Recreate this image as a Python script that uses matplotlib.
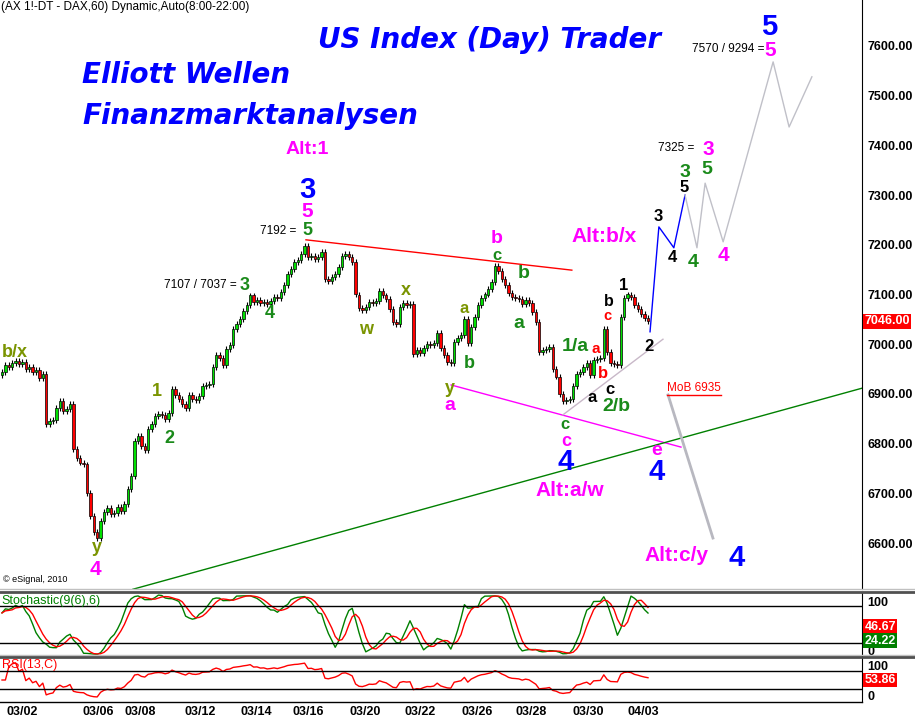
## DAX 60 min chart with Elliott wave count, stochastic and RSI panels

import numpy as np
import pandas as pd
import matplotlib
matplotlib.use('Agg')
import matplotlib.pyplot as plt
from matplotlib.lines import Line2D

plt.rcParams['font.family'] = ['Liberation Sans', 'DejaVu Sans']

## price data (closes, one value per bar)
closes = [
    6945, 6958, 6955, 6962, 6966, 6960, 6965, 6950, 6955, 6945,
    6948, 6932, 6940, 6840, 6845, 6848, 6872, 6885, 6866, 6870,
    6880, 6790, 6772, 6762, 6758, 6700, 6655, 6622, 6610, 6645,
    6662, 6670, 6658, 6660, 6672, 6665, 6678, 6708, 6735, 6805,
    6815, 6795, 6788, 6830, 6840, 6855, 6860, 6858, 6850, 6862,
    6910, 6898, 6890, 6880, 6872, 6898, 6890, 6888, 6895, 6915,
    6918, 6920, 6955, 6978, 6972, 6958, 6990, 6998, 7030, 7040,
    7050, 7066, 7078, 7098, 7085, 7088, 7082, 7085, 7080, 7086,
    7095, 7092, 7105, 7120, 7142, 7152, 7165, 7170, 7182, 7198,
    7175, 7178, 7172, 7176, 7186, 7132, 7128, 7135, 7142, 7155,
    7178, 7182, 7175, 7165, 7100, 7072, 7068, 7075, 7085, 7083,
    7086, 7108, 7098, 7090, 7070, 7045, 7040, 7075, 7082, 7078,
    7080, 6980, 6988, 6982, 6992, 7000, 6998, 7002, 7022, 6992,
    6978, 6965, 6962, 7005, 7012, 7018, 7050, 7002, 7035, 7055,
    7078, 7093, 7100, 7112, 7125, 7158, 7148, 7132, 7120, 7103,
    7095, 7093, 7090, 7080, 7088, 7083, 7065, 7045, 6985, 6988,
    6990, 6994, 6950, 6935, 6900, 6885, 6888, 6890, 6915, 6940,
    6945, 6955, 6962, 6938, 6968, 6970, 6972, 7030, 6985, 6962,
    6960, 6958, 7055, 7092, 7100, 7095, 7078, 7070, 7060, 7052,
    7046,
]
first_open = 6938
wick = 6

date_labels = ['03/02', '03/06', '03/08', '03/12', '03/14', '03/16',
               '03/20', '03/22', '03/26', '03/28', '03/30', '04/03']
date_pos = [5.9, 28.2, 40.6, 58.2, 74.7, 90.0, 106.8, 122.9, 139.7, 155.6, 172.4, 188.5]
price_ticks = [7600, 7500, 7400, 7300, 7200, 7100, 7000, 6900, 6800, 6700, 6600]
last_price = 7046.00
stoch_d_last = 46.67
stoch_k_last = 24.22
rsi_last = 53.86

## projected wave paths and trend lines (bar, price)
proj_blue_x = [190.6, 193.2, 197.6, 200.9]
proj_blue_y = [7025, 7236, 7194, 7300]
proj_grey_x = [200.9, 204.4, 206.8, 212.1, 226.8, 231.5, 238.2]
proj_grey_y = [7300, 7194, 7324, 7206, 7568, 7437, 7538]
mob_x = [195.9, 209.1]
mob_y = [6898, 6610]
red_tl_x, red_tl_y = [89.4, 167.6], [7210, 7149]
mag_tl_x, mag_tl_y = [132.1, 199.7], [6918, 6793]
green_tl_x, green_tl_y = [38.5, 253.2], [6507, 6912]
grey_tl_x, grey_tl_y = [165.0, 194.4], [6858, 7010]

MAG = '#ff00ff'
BLUE = '#0000ff'
GREEN = '#1a8a1a'
OLIVE = '#7a9400'
RED = '#ff0000'
BLACK = '#000000'

## wave labels: bar, price, text, colour, size
labels = [
    (3.8, 6984, 'b/x', OLIVE, 13), (27.9, 6590, 'y', OLIVE, 13), (27.6, 6546, '4', MAG, 15),
    (45.6, 6904, '1', OLIVE, 13), (49.1, 6811, '2', GREEN, 13), (71.5, 7119, '3', GREEN, 13),
    (78.8, 7061, '4', GREEN, 13), (89.7, 7228, '5', GREEN, 13), (89.7, 7266, '5', MAG, 15),
    (89.7, 7310, '3', BLUE, 21), (89.7, 7391, 'Alt:1', MAG, 14), (107.1, 7029, 'w', OLIVE, 13),
    (118.8, 7109, 'x', OLIVE, 13), (131.8, 6910, 'y', OLIVE, 13), (131.8, 6876, 'a', MAG, 14),
    (135.9, 7071, 'a', OLIVE, 12), (137.4, 6962, 'b', GREEN, 13), (145.6, 7212, 'b', MAG, 14),
    (145.6, 7179, 'c', GREEN, 12), (153.5, 7143, 'b', GREEN, 14), (152.1, 7041, 'a', GREEN, 14),
    (177.1, 7216, 'Alt:b/x', MAG, 15), (168.5, 6996, '1/a', GREEN, 14), (174.7, 6990, 'a', RED, 11),
    (176.8, 6942, 'b', RED, 12), (173.5, 6892, 'a', BLACK, 12), (178.8, 6908, 'c', BLACK, 12),
    (180.6, 6874, '2/b', GREEN, 14), (178.5, 7085, 'b', BLACK, 11.5), (178.2, 7057, 'c', RED, 10.5),
    (182.9, 7119, '1', BLACK, 12), (190.3, 6996, '2', BLACK, 12), (165.6, 6839, 'c', GREEN, 12),
    (165.9, 6805, 'c', MAG, 13), (165.9, 6763, '4', BLUE, 21), (192.9, 7256, '3', BLACK, 12),
    (197.1, 7175, '4', BLACK, 12), (200.6, 7316, '5', BLACK, 12), (200.9, 7346, '3', GREEN, 14),
    (207.6, 7391, '3', MAG, 15), (207.4, 7351, '5', GREEN, 14), (203.2, 7165, '4', GREEN, 14),
    (212.1, 7179, '4', MAG, 15), (225.9, 7590, '5', MAG, 15), (225.6, 7638, '5', BLUE, 21),
    (192.4, 6787, 'e', MAG, 14), (192.6, 6743, '4', BLUE, 21), (166.9, 6705, 'Alt:a/w', MAG, 15),
    (198.5, 6574, 'Alt:c/y', MAG, 15), (216.2, 6570, '4', BLUE, 21),
]
notes = [(86.5, 7228, '7192 ='), (69.1, 7119, '7107 / 7037 ='),
         (203.5, 7395, '7325 ='), (224.4, 7594, '7570 / 9294 =')]

## candles
c = np.array(closes, dtype=float)
o = np.concatenate([[first_open], c[:-1]])
hi = np.maximum(o, c) + wick
lo = np.minimum(o, c) - wick
x = np.arange(len(c))

## indicators
s_c = pd.Series(c)
hh = pd.Series(hi).rolling(9, min_periods=1).max()
ll = pd.Series(lo).rolling(9, min_periods=1).min()
raw = 100 * (s_c - ll) / (hh - ll)
k = raw.rolling(4, min_periods=1).mean()
d = k.rolling(4, min_periods=1).mean()
diff = s_c.diff().fillna(0)
up = diff.clip(lower=0).ewm(alpha=1/13, adjust=False).mean()
dn = (-diff.clip(upper=0)).ewm(alpha=1/13, adjust=False).mean()
rsi = 100 - 100 / (1 + up / dn.replace(0, np.nan))
rsi = rsi.fillna(50)

W, H = 915, 718
fig = plt.figure(figsize=(W/100, H/100), dpi=100)
xr = 862 / W
ax = fig.add_axes([0, 1 - 589/H, xr, 589/H])
ax2 = fig.add_axes([0, 1 - 656/H, xr, 63/H])
ax3 = fig.add_axes([0, 1 - 702/H, xr, 44/H])
xlim = (-2/3.4, 860/3.4)

ax.vlines(x, lo, hi, color='black', lw=0.8, zorder=2)
ax.bar(x, c - o, bottom=o, width=0.75,
       color=np.where(c >= o, '#00e000', '#ff0000'),
       edgecolor='black', linewidth=0.5, zorder=3)

ax.plot(red_tl_x, red_tl_y, color=RED, lw=1)
ax.plot(mag_tl_x, mag_tl_y, color=MAG, lw=1)
ax.plot(green_tl_x, green_tl_y, color='#008000', lw=1)
ax.plot(grey_tl_x, grey_tl_y, color='#c8b8c8', lw=1)
ax.plot(proj_blue_x, proj_blue_y, color=BLUE, lw=1)
ax.plot(proj_grey_x, proj_grey_y, color='#c0c0c8', lw=1)
ax.plot(mob_x, mob_y, color='#b8b8c0', lw=2)

for bx, py, t, col, sz in labels:
    ax.text(bx, py, t, color=col, fontsize=sz, fontweight='bold', ha='center', va='center')
for bx, py, t in notes:
    ax.text(bx, py, t, color='black', fontsize=8.5, ha='right', va='center')
mob = ax.text(203.5, 6912, 'MoB 6935', color=RED, fontsize=8.5, ha='center', va='center')
ax.text(0.3, 6526, '\u00a9 eSignal, 2010', fontsize=6.5, ha='left', va='center')

ax.set_xlim(*xlim)
ax.set_ylim(6507.5, 7692.5)
ax.yaxis.tick_right()
ax.set_yticks(price_ticks)
ax.set_yticklabels(['%.2f' % p for p in price_ticks], fontweight='bold', fontsize=9)
ax.tick_params(axis='y', length=0, pad=4)
ax.set_xticks([])
ax.text(1.003, last_price, '%.2f' % last_price, transform=ax.get_yaxis_transform(),
        color='white', fontsize=9, fontweight='bold', ha='left', va='center',
        bbox=dict(facecolor=RED, edgecolor='none', pad=1))

## stochastic
ax2.plot(x, k, color='#008000', lw=1)
ax2.plot(x, d, color=RED, lw=1)
ax2.axhline(80, color='black', lw=1)
ax2.axhline(20, color='black', lw=1)
ax2.set_ylim(0, 100)
ax2.set_xlim(*xlim)
ax2.yaxis.tick_right()
ax2.set_yticks([87, 9])
ax2.set_yticklabels(['100', '0'], fontweight='bold', fontsize=9)
ax2.tick_params(axis='y', length=0, pad=4)
ax2.set_xticks([])
ax2.text(0.002, 0.88, 'Stochastic(9(6),6)', transform=ax2.transAxes, color='#008000',
         fontsize=9, ha='left', va='center')
for val, col in [(stoch_d_last, RED), (stoch_k_last, '#008000')]:
    ax2.text(1.003, val, '%.2f' % val, transform=ax2.get_yaxis_transform(), color='white',
             fontsize=9, fontweight='bold', ha='left', va='center',
             bbox=dict(facecolor=col, edgecolor='none', pad=1))

## RSI
ax3.plot(x, rsi, color=RED, lw=1)
ax3.axhline(70, color='black', lw=1)
ax3.axhline(30, color='black', lw=1)
ax3.set_ylim(0, 100)
ax3.set_xlim(*xlim)
ax3.yaxis.tick_right()
ax3.set_yticks([82, 14])
ax3.set_yticklabels(['100', '0'], fontweight='bold', fontsize=9)
ax3.tick_params(axis='y', length=0, pad=4)
ax3.set_xticks(date_pos)
ax3.set_xticklabels(date_labels, fontweight='bold', fontsize=9)
ax3.tick_params(axis='x', length=0, pad=3)
ax3.text(0.002, 0.83, 'RSI(13,C)', transform=ax3.transAxes, color=RED,
         fontsize=9, ha='left', va='center')
ax3.text(1.003, 50, '%.2f' % rsi_last, transform=ax3.get_yaxis_transform(), color='white',
         fontsize=9, fontweight='bold', ha='left', va='center',
         bbox=dict(facecolor=RED, edgecolor='none', pad=1))

for a in (ax, ax2, ax3):
    a.spines['left'].set_visible(False)
    a.spines['top'].set_visible(False)
    a.spines['bottom'].set_visible(False)
    a.spines['right'].set_color('black')

## panel separators
for py, col, lw in [(589, '#c0c0c0', 1), (591.5, '#505050', 2), (655, '#c0c0c0', 1), (657, '#505050', 2)]:
    fig.add_artist(Line2D([0, 1], [1 - py/H, 1 - py/H], color=col, lw=lw))
fig.add_artist(Line2D([0, xr], [1 - 702/H, 1 - 702/H], color='black', lw=1))

## headings
fig.text(0.001, 1 - 7/H, '(AX 1!-DT - DAX,60) Dynamic,Auto(8:00-22:00)', fontsize=8.5, va='center')
for px, py, t in [(318, 40, 'US Index (Day) Trader'), (82, 75, 'Elliott Wellen'),
                  (82, 116, 'Finanzmarktanalysen')]:
    fig.text(px/W, 1 - py/H, t, color=BLUE, fontsize=20, fontweight='bold', style='italic',
             family=['DejaVu Sans'], va='center', ha='left')

## underline for MoB text
fig.canvas.draw()
bb = mob.get_window_extent()
fig.add_artist(Line2D([bb.x0/W, bb.x1/W], [(bb.y0 - 1)/H, (bb.y0 - 1)/H], color=RED, lw=1))

fig.savefig('out.png', dpi=100)
